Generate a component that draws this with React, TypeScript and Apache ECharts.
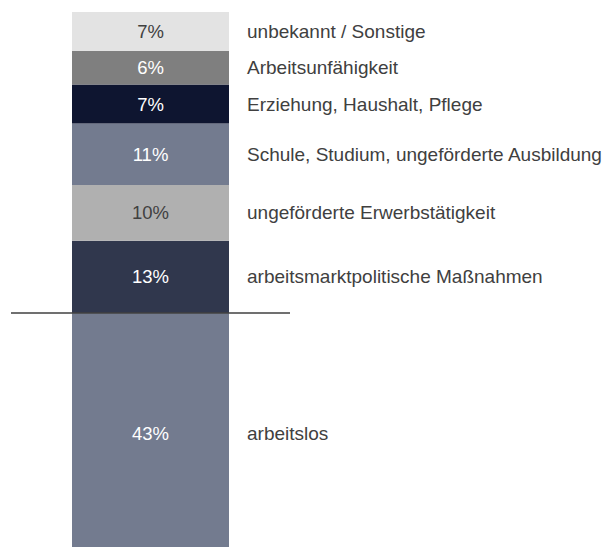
import React, { useEffect, useRef } from "react";
import * as echarts from "echarts";

// bottom to top
const categories = [
  "arbeitslos",
  "arbeitsmarktpolitische Maßnahmen",
  "ungeförderte Erwerbstätigkeit",
  "Schule, Studium, ungeförderte Ausbildung",
  "Erziehung, Haushalt, Pflege",
  "Arbeitsunfähigkeit",
  "unbekannt / Sonstige",
];
const values = [43, 13, 10, 11, 7, 6, 7];
const colors = ["#737b8f", "#30374d", "#b0b0b0", "#737b8f", "#0e1530", "#7f7f7f", "#e3e3e3"];
const valueTextColors = ["#ffffff", "#ffffff", "#404040", "#ffffff", "#ffffff", "#ffffff", "#404040"];
const dividerValue = 43;

export default function App() {
  const ref = useRef<HTMLDivElement>(null);
  useEffect(() => {
    if (!ref.current) return;
    const chart = echarts.init(ref.current, null, { renderer: "svg" });
    const total = values.reduce((a, b) => a + b, 0);
    const font = "'Liberation Sans', Arial, sans-serif";
    const series: any[] = [];
    categories.forEach((name, i) => {
      series.push({
        type: "bar",
        name,
        stack: "main",
        barWidth: 157,
        data: [values[i]],
        itemStyle: { color: colors[i] },
        label: {
          show: true,
          position: "inside",
          formatter: "{c}%",
          color: valueTextColors[i],
          fontSize: 18.5,
          fontFamily: font,
        },
        markLine:
          i === 0
            ? {
                symbol: "none",
                silent: true,
                label: { show: false },
                lineStyle: { color: "#404040", width: 1.5, type: "solid" },
                data: [{ yAxis: dividerValue }],
              }
            : undefined,
        z: 2,
      });
    });
    categories.forEach((name, i) => {
      series.push({
        type: "bar",
        name: name + "_label",
        stack: "names",
        barWidth: 157,
        barGap: "-100%",
        data: [values[i]],
        itemStyle: { color: "rgba(0,0,0,0)" },
        label: {
          show: true,
          position: "right",
          distance: 18,
          formatter: name,
          color: "#404040",
          fontSize: 19,
          fontFamily: font,
        },
        z: 3,
      });
    });
    chart.setOption({
      animation: false,
      grid: { left: 11, width: 279, top: 12, height: 541, outerBoundsMode: "none", containLabel: false },
      xAxis: { type: "category", data: ["Verbleib"], show: false },
      yAxis: { type: "value", min: 0, max: total, show: false },
      series,
    });
    return () => chart.dispose();
  }, []);
  return <div ref={ref} style={{ width: 614, height: 547, position: "absolute", left: 0, top: 0 }} />;
}
